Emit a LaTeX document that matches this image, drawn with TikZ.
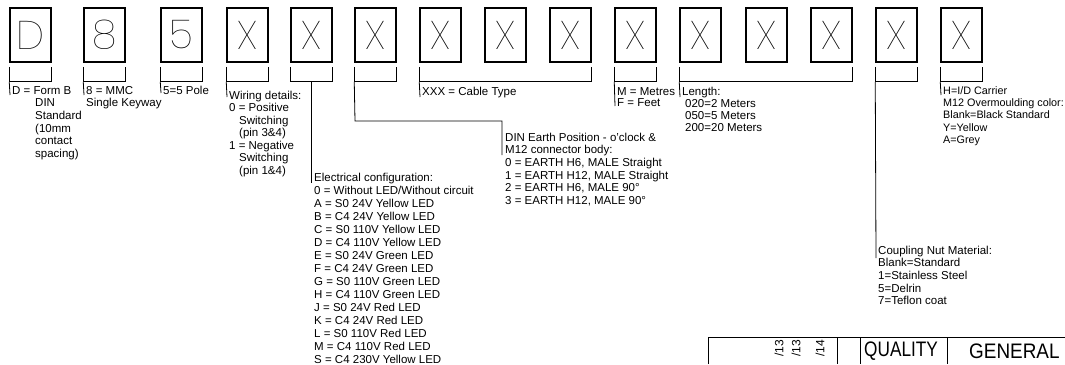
\documentclass[tikz,border=0pt]{standalone}
\usepackage{fontspec}
\setmainfont{Liberation Sans}
\newfontfamily\bigf{Poppins Thin}
\newcommand\tst{\rule{0pt}{9pt}}
\newcommand\ind{\hspace*{10pt}}
\newcommand\bkt[2]{\draw[brk] ([yshift=-4pt]#1.south west) |- ([yshift=-19pt]#2.south east) -- ([yshift=-4pt]#2.south east);}
\begin{document}
\begin{tikzpicture}[x=1pt,y=-1pt,
  box/.style={draw, line width=1.5pt, minimum width=41pt, minimum height=54pt, inner sep=0pt,
    font=\bigf\fontsize{40}{40}\selectfont},
  brk/.style={line width=0.8pt},
  lbl/.style={anchor=north west, inner sep=0pt, align=left, font=\fontsize{11.5}{12.6}\selectfont},
  tb/.style={line width=0.9pt},
  dt/.style={rotate=90, anchor=east, inner sep=0pt, font=\fontsize{12}{12}\selectfont},
]
\useasboundingbox (0,0) rectangle (1065,364);
% boxes
\node[box] (b1) at (30.5,35) {D};
\node[box] (b2) at (104.5,35) {8};
\node[box] (b3) at (181.5,35) {5};
\node[box] (b4) at (247.5,35) {X};
\node[box] (b5) at (311.5,35) {X};
\node[box] (b6) at (375.5,35) {X};
\node[box] (b7) at (440.5,35) {X};
\node[box] (b8) at (505.5,35) {X};
\node[box] (b9) at (570.5,35) {X};
\node[box] (b10) at (635.5,35) {X};
\node[box] (b11) at (700.5,35) {X};
\node[box] (b12) at (766.5,35) {X};
\node[box] (b13) at (831.5,35) {X};
\node[box] (b14) at (896.5,35) {X};
\node[box] (b15) at (961.5,35) {X};
% brackets
\bkt{b1}{b1} \bkt{b2}{b2} \bkt{b3}{b3} \bkt{b4}{b4} \bkt{b5}{b5} \bkt{b6}{b6}
\bkt{b7}{b9} \bkt{b10}{b10} \bkt{b11}{b13} \bkt{b14}{b14} \bkt{b15}{b15}
% leader end points
\coordinate (e1) at (10,95);
\coordinate (e2) at (84,95);
\coordinate (e3) at (161,93);
\coordinate (e4) at (227,97);
\coordinate (e5) at (311.5,183);
\coordinate (e6a) at (355,121);
\coordinate (e6b) at (502,121);
\coordinate (e6) at (502,155);
\coordinate (e7) at (420,97);
\coordinate (e10) at (615,106);
\coordinate (e11) at (680,97);
\coordinate (e14) at (876,258);
\coordinate (e15) at (941,95);
\draw[brk] ([yshift=-19pt]b1.south west) -- (e1);
\draw[brk] ([yshift=-19pt]b2.south west) -- (e2);
\draw[brk] ([yshift=-19pt]b3.south west) -- (e3);
\draw[brk] ([yshift=-19pt]b4.south west) -- (e4);
\draw[brk] ([yshift=-19pt]b5.south) -- (e5);
\draw[brk] ([yshift=-19pt]b6.south west) -- (e6a) -- (e6b) -- (e6);
\draw[brk] ([yshift=-19pt]b7.south west) -- (e7);
\draw[brk] ([yshift=-19pt]b10.south west) -- (e10);
\draw[brk] ([yshift=-19pt]b11.south west) -- (e11);
\draw[brk] ([yshift=-19pt]b14.south west) -- (e14);
\draw[brk] ([yshift=-19pt]b15.south west) -- (e15);
% labels
\node[lbl] (l1) at (12,85.1) {\tst D = Form B};
\node[lbl] (l1b) at (35,97.7) {\tst DIN\\Standard\\(10mm\\contact\\spacing)};
\node[lbl, font=\fontsize{11.5}{12}\selectfont] (l2) at (86,85.1) {\tst 8 = MMC\\Single Keyway};
\node[lbl] (l3) at (163,85.1) {\tst 5=5 Pole};
\node[lbl, font=\fontsize{11.5}{12.5}\selectfont] (l4) at (229,90.1) {\tst Wiring details:\\0 = Positive\\\ind Switching\\\ind (pin 3\&4)\\1 = Negative\\\ind Switching\\\ind (pin 1\&4)};
\node[lbl, font=\fontsize{11.5}{13}\selectfont] (l5) at (314,172.1) {\tst Electrical configuration:\\
0 = Without LED/Without circuit\\
A = S0 24V Yellow LED\\
B = C4 24V Yellow LED\\
C = S0 110V Yellow LED\\
D = C4 110V Yellow LED\\
E = S0 24V Green LED\\
F = C4 24V Green LED\\
G = S0 110V Green LED\\
H = C4 110V Green LED\\
J = S0 24V Red LED\\
K = C4 24V Red LED\\
L = S0 110V Red LED\\
M = C4 110V Red LED\\
S = C4 230V Yellow LED};
\node[lbl] (l6) at (505,132.1) {\tst DIN Earth Position - o'clock \&\\M12 connector body:\\
0 = EARTH H6, MALE Straight\\1 = EARTH H12, MALE Straight\\2 = EARTH H6, MALE 90°\\3 = EARTH H12, MALE 90°};
\node[lbl] (l7) at (422,86.1) {\tst XXX = Cable Type};
\node[lbl, font=\fontsize{11.5}{11}\selectfont] (l10) at (617,86.1) {\tst M = Metres\\F = Feet};
\node[lbl, font=\fontsize{11.5}{12}\selectfont] (l11) at (682,86.1) {\tst Length:\\\hspace*{3pt}020=2 Meters\\\hspace*{3pt}050=5 Meters\\\hspace*{3pt}200=20 Meters};
\node[lbl] (l14) at (878,245.1) {\tst Coupling Nut Material:\\Blank=Standard\\1=Stainless Steel\\5=Delrin\\7=Teflon coat};
\node[lbl, font=\fontsize{10.8}{12.3}\selectfont] (l15) at (943,85.1) {\tst H=I/D Carrier\\M12 Overmoulding color:\\Blank=Black Standard\\Y=Yellow\\A=Grey};
% title block
\coordinate (t0) at (708,364);
\coordinate (t1) at (708,337);
\coordinate (t2) at (1065,337);
\coordinate (v1a) at (837,337); \coordinate (v1b) at (837,364);
\coordinate (v2a) at (860,337); \coordinate (v2b) at (860,364);
\coordinate (v3a) at (947,337); \coordinate (v3b) at (947,364);
\draw[tb] (t0) -- (t1) -- (t2);
\draw[tb] (v1a) -- (v1b);
\draw[tb] (v2a) -- (v2b);
\draw[tb] (v3a) -- (v3b);
\node[dt] (d1) at (779,340) {/13};
\node[dt] (d2) at (796,340) {/13};
\node[dt] (d3) at (820,340) {/14};
\node[anchor=west, inner sep=0pt, font=\fontsize{21}{21}\selectfont] (q) at (864,351) {\scalebox{0.82}[1]{QUALITY}};
\node[anchor=west, inner sep=0pt, font=\fontsize{21}{21}\selectfont] (g) at (969,351) {\scalebox{0.9}[1]{GENERAL}};
\end{tikzpicture}
\end{document}
